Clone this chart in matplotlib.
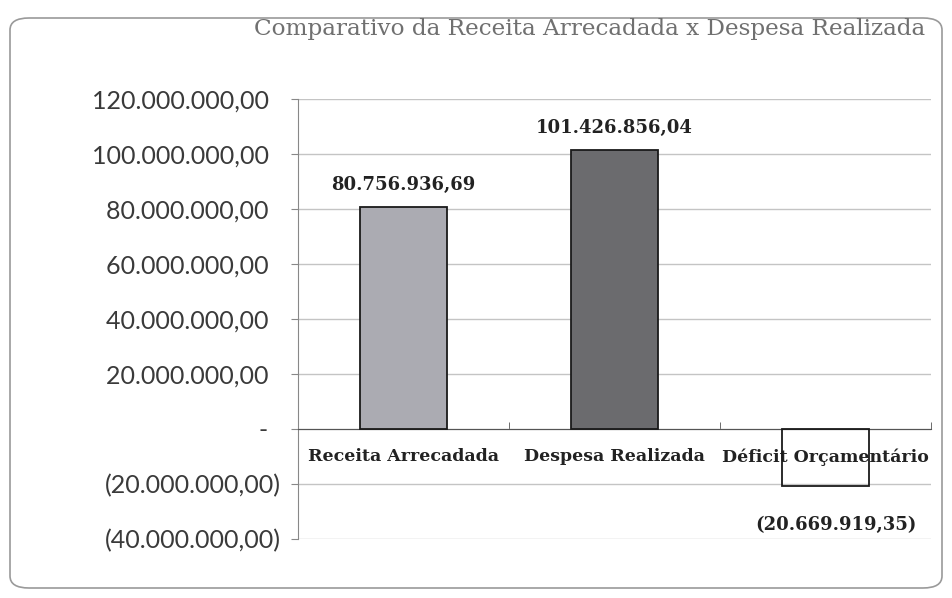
import matplotlib.pyplot as plt
from matplotlib.patches import FancyBboxPatch
from matplotlib.ticker import FuncFormatter

# data
categories = ['Receita Arrecadada', 'Despesa Realizada', 'Déficit Orçamentário']
values = [80756936.69, 101426856.04, -20669919.35]
bar_colors = ['#ababb2', '#6b6b6e', 'none']
title = 'Comparativo da Receita Arrecadada x Despesa Realizada'
y_ticks = [-40e6, -20e6, 0, 20e6, 40e6, 60e6, 80e6, 100e6, 120e6]

SERIF = 'DejaVu Serif'


def br_money(v, pos=None):
    # Excel accounting style: 1.234,56 ; negatives in parentheses ; zero as "-"
    if v == 0:
        return '-  '
    s = f'{abs(v):,.2f}'.replace(',', 'X').replace('.', ',').replace('X', '.')
    return f'({s})' if v < 0 else s


def axis_label(v, pos=None):
    # positives leave room for the ")" like the accounting format does
    s = br_money(v)
    return s + '  ' if v > 0 else s


fig = plt.figure(figsize=(9.52, 5.98), dpi=100)
fig.patch.set_facecolor('white')

# rounded frame around the whole chart
frame = FancyBboxPatch((10 / 952, 10 / 598), 932 / 952, 570 / 598,
                       boxstyle='round,pad=0,rounding_size=0.02',
                       transform=fig.transFigure, facecolor='none',
                       edgecolor='#9a9a9a', linewidth=1.2)
fig.patches.append(frame)

ax = fig.add_axes([298 / 952, 1 - 539 / 598, 633 / 952, 440 / 598])
x = list(range(len(categories)))
bars = ax.bar(x, values, width=0.41, color=bar_colors,
              edgecolor='#1a1a1a', linewidth=1.3, zorder=3)

ax.set_xlim(-0.5, len(categories) - 0.5)
ax.set_ylim(-40e6, 120e6)
ax.set_yticks(y_ticks)
ax.yaxis.set_major_formatter(FuncFormatter(axis_label))
ax.tick_params(axis='y', length=5, color='#888888', pad=7,
               labelsize=18, labelcolor='#3a3a3a')
for lab in ax.get_yticklabels():
    lab.set_fontfamily('Lato')
ax.grid(axis='y', color='#c4c4c4', linewidth=1.0, zorder=0)

# category axis sits on the zero line
ax.spines['bottom'].set_position(('data', 0))
ax.spines['bottom'].set_color('#555555')
ax.spines['left'].set_color('#888888')
ax.spines['top'].set_visible(False)
ax.spines['right'].set_visible(False)
ax.set_xticks(x)
ax.set_xticklabels(categories, fontfamily=SERIF, fontweight='bold',
                   fontsize=12.5, color='#222222')
ax.set_xticks([i + 0.5 for i in x], minor=True)
ax.tick_params(axis='x', which='major', length=0, pad=14)
ax.tick_params(axis='x', which='minor', length=5, color='#555555', direction='in')

# data labels
for i, v in enumerate(values):
    if v >= 0:
        ax.text(i, v + 4.8e6, br_money(v), ha='center', va='bottom',
                fontfamily=SERIF, fontweight='bold', fontsize=13,
                color='#222222')
    else:
        ax.text(i + 0.05, v - 14.2e6, br_money(v), ha='center', va='center',
                fontfamily=SERIF, fontweight='bold', fontsize=13,
                color='#222222', zorder=4,
                bbox=dict(facecolor='white', edgecolor='none', pad=1))

fig.text(925 / 952, 1 - 29 / 598, title, ha='right', va='center',
         fontfamily=SERIF, fontsize=16.7, color='#707070')

fig.savefig('out.png', dpi=100)
